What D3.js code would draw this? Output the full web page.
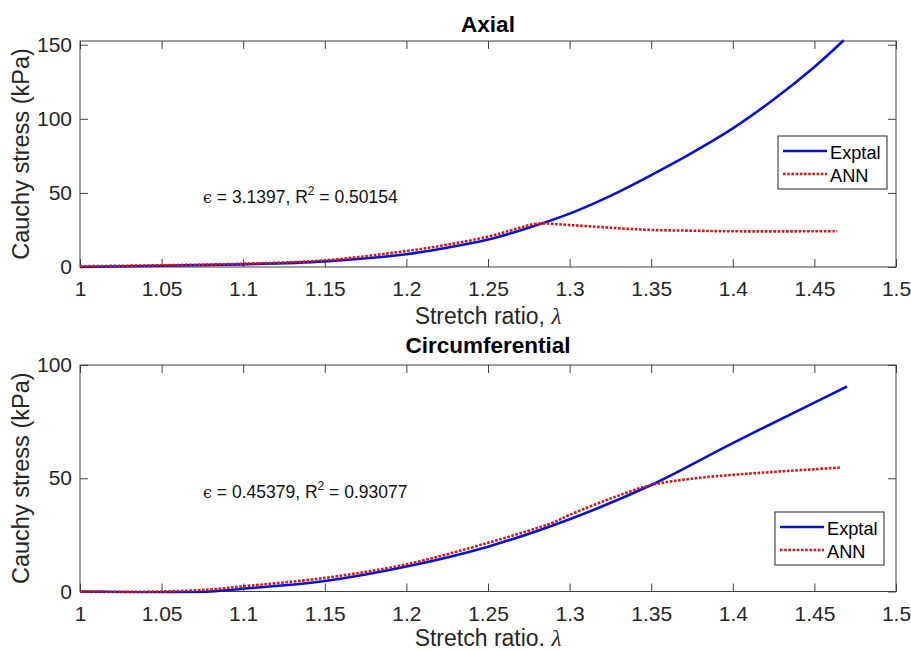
<!DOCTYPE html>
<html>
<head>
<meta charset="utf-8">
<script src="https://cdn.jsdelivr.net/npm/d3@7"></script>
<style>
  body { margin: 0; background: #fff; }
  svg { display: block; font-family: "Liberation Sans", Arial, sans-serif; }
</style>
</head>
<body>
<svg id="chart" width="911" height="651"></svg>
<script>
// values
const xTicks = [1, 1.05, 1.1, 1.15, 1.2, 1.25, 1.3, 1.35, 1.4, 1.45, 1.5];
const axialTicks = [0, 50, 100, 150];
const circTicks = [0, 50, 100];

const axialExptalX = [1, 1.05, 1.1, 1.15, 1.2, 1.225, 1.25, 1.275, 1.3, 1.325, 1.35, 1.375, 1.4, 1.425, 1.45, 1.468];
const axialExptalY = [0, 0.8, 1.8, 3.8, 8.6, 13, 18.5, 26.5, 36, 48, 62, 77, 93.5, 113, 135, 153];
const axialAnnX = [1, 1.05, 1.1, 1.15, 1.2, 1.225, 1.25, 1.265, 1.28, 1.3, 1.325, 1.35, 1.375, 1.4, 1.45, 1.464];
const axialAnnY = [0.5, 1.2, 2.2, 4.5, 10.8, 15, 20.5, 25, 29.2, 28.3, 26.5, 25, 24.5, 24.1, 24.1, 24.2];

const circExptalX = [1, 1.05, 1.08, 1.1, 1.15, 1.2, 1.25, 1.3, 1.35, 1.4, 1.45, 1.47];
const circExptalY = [0, -0.3, 0, 1.2, 4.6, 11, 19.8, 31.9, 47, 65.5, 83.4, 90.5];
const circAnnX = [1, 1.05, 1.08, 1.1, 1.15, 1.2, 1.25, 1.28, 1.29, 1.3, 1.325, 1.35, 1.375, 1.4, 1.425, 1.45, 1.466];
const circAnnY = [0, 0, 0.9, 2.3, 6, 12, 21.5, 28, 30.5, 33.8, 41, 47, 49.8, 51.5, 52.8, 54, 54.7];

const seriesNames = ["Exptal", "ANN"];

const blue = "#0a10d0";
const red = "#d81414";
const axisColor = "#404040";
const textColor = "#262626";

const svg = d3.select("#chart");
const left = 80, right = 896;

const panels = [
  {
    title: "Axial", top: 41, bottom: 267, yMax: 152.5, yTicks: axialTicks,
    titleY: 31.5, xLabel: "Stretch ratio, ", xLabelY: 324,
    series: [[axialExptalX, axialExptalY], [axialAnnX, axialAnnY]],
    note: ["3.1397", "0.50154"], noteY: 203,
    legend: {x: 778, y: 136}
  },
  {
    title: "Circumferential", top: 365, bottom: 591.5, yMax: 100, yTicks: circTicks,
    titleY: 353, xLabel: "Stretch ratio. ", xLabelY: 646,
    series: [[circExptalX, circExptalY], [circAnnX, circAnnY]],
    note: ["0.45379", "0.93077"], noteY: 498,
    legend: {x: 775, y: 512}
  }
];

const styles = [
  {color: blue, dash: null},
  {color: red, dash: "2.6,1.6"}
];

panels.forEach((p, i) => {
  const x = d3.scaleLinear().domain([1, 1.5]).range([left, right]);
  const y = d3.scaleLinear().domain([0, p.yMax]).range([p.bottom, p.top]);
  const g = svg.append("g");

  const clipId = "clip" + i;
  svg.append("clipPath").attr("id", clipId)
    .append("rect")
    .attr("x", left).attr("y", p.top - 2)
    .attr("width", right - left).attr("height", p.bottom - p.top + 4);

  // axes: ticks on all four sides, pointing inward
  const styleAxis = sel => {
    sel.select(".domain").remove();
    sel.selectAll("line").attr("stroke", axisColor);
    sel.selectAll("text").attr("fill", textColor).attr("font-size", "21px")
      .attr("font-family", "Liberation Sans, Arial, sans-serif");
  };

  g.append("g")
    .attr("transform", `translate(0,${p.bottom})`)
    .call(d3.axisBottom(x).tickValues(xTicks).tickSize(-8).tickPadding(14.5).tickFormat(d3.format("")))
    .call(styleAxis);
  g.append("g")
    .attr("transform", `translate(0,${p.top})`)
    .call(d3.axisTop(x).tickValues(xTicks).tickSize(-8).tickFormat(""))
    .call(styleAxis);
  g.append("g")
    .attr("transform", `translate(${left},0)`)
    .call(d3.axisLeft(y).tickValues(p.yTicks).tickSize(-8).tickPadding(8))
    .call(styleAxis);
  g.append("g")
    .attr("transform", `translate(${right},0)`)
    .call(d3.axisRight(y).tickValues(p.yTicks).tickSize(-8).tickFormat(""))
    .call(styleAxis);

  g.append("rect")
    .attr("x", left).attr("y", p.top)
    .attr("width", right - left).attr("height", p.bottom - p.top)
    .attr("fill", "none").attr("stroke", axisColor).attr("stroke-width", 1);

  // curves
  const line = d3.line()
    .x(d => x(d[0]))
    .y(d => y(d[1]))
    .curve(d3.curveCatmullRom.alpha(0.5));

  p.series.forEach((s, k) => {
    const pts = s[0].map((v, j) => [v, s[1][j]]);
    g.append("path")
      .datum(pts)
      .attr("clip-path", `url(#${clipId})`)
      .attr("fill", "none")
      .attr("stroke", styles[k].color)
      .attr("stroke-width", 2.6)
      .attr("stroke-dasharray", styles[k].dash)
      .attr("d", line);
  });

  // title
  g.append("text")
    .attr("x", (left + right) / 2).attr("y", p.titleY)
    .attr("text-anchor", "middle")
    .attr("font-size", "22.5px").attr("font-weight", "bold")
    .attr("fill", "#000")
    .text(p.title);

  // x label
  const xl = g.append("text")
    .attr("x", (left + right) / 2).attr("y", p.xLabelY)
    .attr("text-anchor", "middle")
    .attr("font-size", "23px")
    .attr("fill", textColor);
  xl.append("tspan").text(p.xLabel);
  xl.append("tspan")
    .attr("font-family", "Liberation Serif, DejaVu Serif, serif")
    .attr("font-style", "italic")
    .text("λ");

  // y label
  g.append("text")
    .attr("transform", `translate(29,${(p.top + p.bottom) / 2}) rotate(-90)`)
    .attr("text-anchor", "middle")
    .attr("font-size", "23.5px")
    .attr("fill", textColor)
    .text("Cauchy stress (kPa)");

  // annotation
  const nt = g.append("text")
    .attr("x", 203).attr("y", p.noteY)
    .attr("font-size", "17.5px")
    .attr("fill", "#111");
  nt.append("tspan")
    .attr("font-family", "DejaVu Serif, serif")
    .attr("font-size", "16px")
    .text("ϵ");
  nt.append("tspan").text(" = " + p.note[0] + ", R");
  nt.append("tspan").attr("font-size", "12px").attr("dy", -8).text("2");
  nt.append("tspan").attr("dy", 8).text(" = " + p.note[1]);

  // legend
  const lg = g.append("g").attr("transform", `translate(${p.legend.x},${p.legend.y})`);
  lg.append("rect")
    .attr("width", 109).attr("height", 53)
    .attr("fill", "#fff").attr("stroke", textColor).attr("stroke-width", 1);
  seriesNames.forEach((name, k) => {
    const ly = 15 + k * 23;
    lg.append("line")
      .attr("x1", 5).attr("x2", 49).attr("y1", ly).attr("y2", ly)
      .attr("stroke", styles[k].color)
      .attr("stroke-width", 2.6)
      .attr("stroke-dasharray", styles[k].dash);
    lg.append("text")
      .attr("x", 52).attr("y", ly + 7.5)
      .attr("font-size", "18.2px")
      .attr("fill", "#000")
      .text(name);
  });
});
</script>
</body>
</html>
